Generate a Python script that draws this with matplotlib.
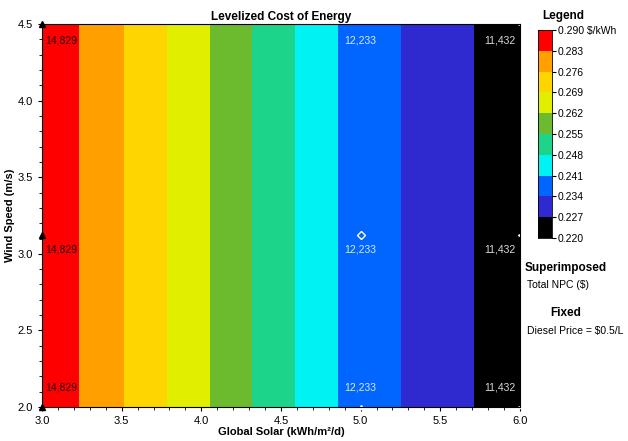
import matplotlib
matplotlib.use("Agg")
import matplotlib.pyplot as plt
import numpy as np
from matplotlib.colors import ListedColormap, BoundaryNorm
from matplotlib.ticker import MultipleLocator

plt.rcParams['font.family'] = ['Liberation Sans', 'DejaVu Sans']

# Datos
solar = [3.0, 3.232, 3.515, 3.785, 4.055, 4.32, 4.59, 4.86, 5.255, 5.71, 6.0]
lcoe = [0.2878, 0.283, 0.276, 0.269, 0.262, 0.255, 0.248, 0.241, 0.234, 0.227, 0.2235]
wind = [2.0, 3.125, 4.5]

levels = [0.220, 0.227, 0.234, 0.241, 0.248, 0.255, 0.262, 0.269, 0.276, 0.283, 0.290]
colores = ['#000000', '#2E2AD0', '#0066FF', '#00F2F2', '#1CD48A',
           '#6CBB2E', '#E2EE00', '#FFD500', '#FFA000', '#FF0000']

npc_solar = [3.0, 5.0, 6.0]
npc_wind = [2.0, 3.125, 4.5]
npc_labels = ['14,829', '12,233', '11,432']

Z = np.array([lcoe for w in wind])
cmap = ListedColormap(colores)
norm = BoundaryNorm(levels, cmap.N)

fig = plt.figure(figsize=(6.28, 4.41), dpi=100)
ax = fig.add_axes([0.0669, 0.077, 0.761, 0.8684])
cf = ax.contourf(solar, wind, Z, levels=levels, cmap=cmap, norm=norm)
ax.set_xlim(3.0, 6.0)
ax.set_ylim(2.0, 4.5)
ax.xaxis.set_major_locator(MultipleLocator(0.5))
ax.yaxis.set_major_locator(MultipleLocator(0.5))
ax.xaxis.set_minor_locator(MultipleLocator(0.1))
ax.yaxis.set_minor_locator(MultipleLocator(0.1))
ax.tick_params(labelsize=8, length=3)
ax.tick_params(which='minor', length=2)
ax.set_xticklabels([f"{v:.1f}" for v in ax.get_xticks()])
ax.set_yticklabels([f"{v:.1f}" for v in ax.get_yticks()])
ax.set_title("Levelized Cost of Energy", fontsize=8.5, fontweight='bold', pad=3)
ax.set_xlabel("Global Solar (kWh/m²/d)", fontsize=8, fontweight='bold', labelpad=1)
ax.set_ylabel("Wind Speed (m/s)", fontsize=8, fontweight='bold', labelpad=2)

# Etiquetas de NPC superpuestas
for s, lab in zip(npc_solar, npc_labels):
    col = 'black' if s == 3.0 else 'white'
    ha = {3.0: 'left', 5.0: 'center', 6.0: 'right'}[s]
    dx = {3.0: 2, 5.0: 0, 6.0: -3}[s]
    for w in npc_wind:
        dy = -12 if w == 4.5 else (-11 if w == 3.125 else 14)
        ax.annotate(lab, (s, w), xytext=(dx, dy), textcoords='offset points',
                    ha=ha, va='center', fontsize=7.5, color=col, alpha=0.85)

ax.plot([3.0, 3.0, 3.0], npc_wind, marker='^', color='black', ms=4, ls='none', clip_on=False)
ax.plot([5.0], [3.125], marker='D', mfc='none', mec='white', ms=4, ls='none')
ax.plot([5.0], [2.0], marker='^', color='white', ms=3, ls='none', clip_on=False)
ax.plot([6.0, 6.0, 6.0], npc_wind, marker='<', color='white', ms=3, ls='none', clip_on=False)

# Barra de colores (hecha a mano)
cax = fig.add_axes([0.857, 0.4603, 0.0223, 0.4717])
for i, c in enumerate(colores):
    cax.axhspan(levels[i], levels[i + 1], color=c, lw=0)
cax.set_ylim(levels[0], levels[-1])
cax.set_xlim(0, 1)
cax.set_xticks([])
cax.yaxis.tick_right()
cax.set_yticks(levels)
etiquetas = [f"{v:.3f}" for v in levels]
etiquetas[-1] = "0.290 $/kWh"
cax.set_yticklabels(etiquetas)
cax.tick_params(labelsize=7.5, length=3, pad=1)
for sp in cax.spines.values():
    sp.set_linewidth(0.6)

fig.text(0.897, 0.963, "Legend", fontsize=8.5, fontweight='bold', ha='center', va='center')
fig.text(0.9, 0.385, "Superimposed", fontsize=8.5, fontweight='bold', ha='center')
fig.text(0.839, 0.348, "Total NPC ($)", fontsize=7.5, ha='left')
fig.text(0.9, 0.284, "Fixed", fontsize=8.5, fontweight='bold', ha='center')
fig.text(0.839, 0.243, "Diesel Price = $0.5/L", fontsize=7.5, ha='left')

fig.savefig("out.png", dpi=100)
